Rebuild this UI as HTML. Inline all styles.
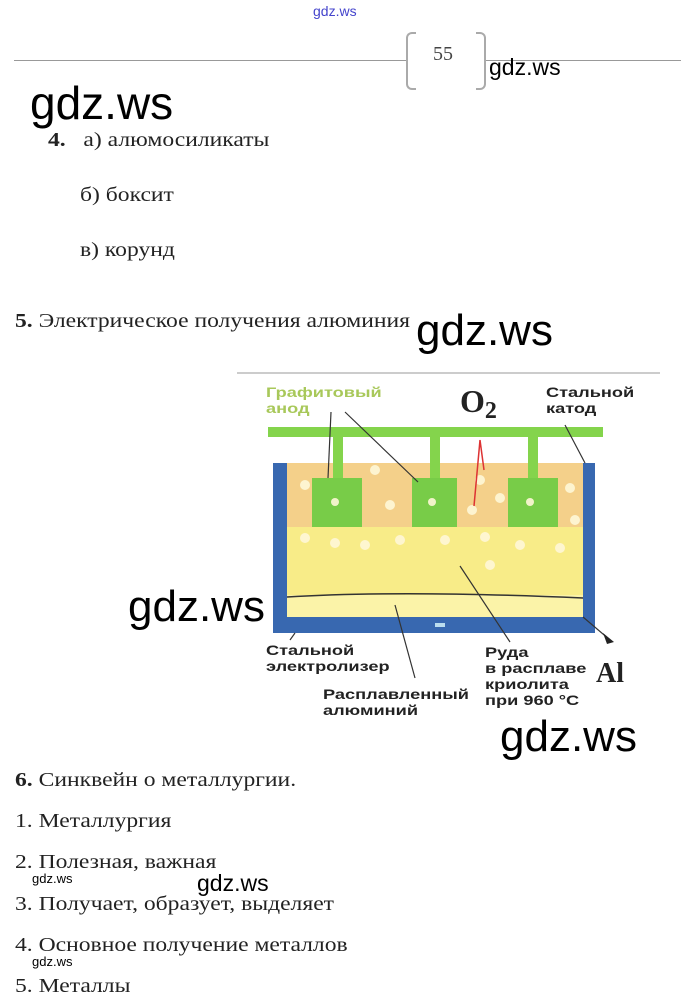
<!DOCTYPE html>
<html><head><meta charset="utf-8"><style>
body{margin:0;width:681px;height:1008px;background:#fff;position:relative;overflow:hidden;font-family:"Liberation Serif",serif;color:#222}
.t{position:absolute;font-size:20px;white-space:nowrap;line-height:1;transform:scaleX(1.18);transform-origin:0 0}
.w{position:absolute;font-family:"Liberation Sans",sans-serif;color:#000;white-space:nowrap;line-height:1}
.d{position:absolute;font-family:"Liberation Sans",sans-serif;font-weight:bold;font-size:14px;line-height:16px;color:#222;transform:scaleX(1.3);transform-origin:0 0;white-space:nowrap}
</style></head><body>
<div class="w" style="left:313px;top:4px;font-size:14px;color:#44c">gdz.ws</div>
<div style="position:absolute;left:14px;top:60px;width:392px;height:1px;background:#999"></div>
<div style="position:absolute;left:486px;top:60px;width:195px;height:1px;background:#999"></div>
<div style="position:absolute;left:406px;top:32px;width:8px;height:54px;border:2px solid #aaa;border-right:none;border-radius:6px 0 0 6px"></div>
<div style="position:absolute;left:476px;top:32px;width:8px;height:54px;border:2px solid #aaa;border-left:none;border-radius:0 6px 6px 0"></div>
<div class="t" style="left:433px;top:44px;font-size:20px;color:#444;transform:none">55</div>
<div class="w" style="left:489px;top:56px;font-size:23px">gdz.ws</div>
<div class="w" style="left:30px;top:80px;font-size:46px">gdz.ws</div>
<div class="t" style="left:48px;top:130px"><b>4.</b>&nbsp;&nbsp; а) алюмосиликаты</div>
<div class="t" style="left:80px;top:185px">б) боксит</div>
<div class="t" style="left:80px;top:240px">в) корунд</div>
<div class="t" style="left:15px;top:311px"><b>5.</b> Электрическое получения алюминия</div>
<div class="w" style="left:416px;top:309px;font-size:44px">gdz.ws</div>

<svg style="position:absolute;left:0;top:0" width="681" height="1008">
<line x1="237" y1="373" x2="660" y2="373" stroke="#ccc" stroke-width="2"/>
<rect x="287" y="463" width="296" height="64" fill="#f4d08a"/>
<rect x="287" y="527" width="296" height="90" fill="#f8ec88"/>
<rect x="287" y="595" width="296" height="22" fill="#fbf3a8"/>
<path d="M287 597 Q400 590 583 598" stroke="#333" fill="none" stroke-width="1.5"/>
<rect x="268" y="427" width="335" height="10" fill="#84d44c"/>
<rect x="333" y="437" width="10" height="42" fill="#84d44c"/>
<rect x="430" y="437" width="10" height="42" fill="#84d44c"/>
<rect x="528" y="437" width="10" height="42" fill="#84d44c"/>
<rect x="312" y="478" width="50" height="49" fill="#78cc48"/>
<rect x="412" y="478" width="45" height="49" fill="#78cc48"/>
<rect x="508" y="478" width="50" height="49" fill="#78cc48"/>
<g fill="#fff8d8" opacity="0.9">
<circle cx="335" cy="502" r="4"/><circle cx="432" cy="502" r="4"/><circle cx="530" cy="502" r="4"/>
<circle cx="305" cy="485" r="5"/><circle cx="375" cy="470" r="5"/><circle cx="390" cy="505" r="5"/>
<circle cx="480" cy="480" r="5"/><circle cx="472" cy="510" r="5"/><circle cx="500" cy="498" r="5"/>
<circle cx="570" cy="488" r="5"/><circle cx="575" cy="520" r="5"/><circle cx="305" cy="538" r="5"/>
<circle cx="335" cy="543" r="5"/><circle cx="365" cy="545" r="5"/><circle cx="400" cy="540" r="5"/>
<circle cx="445" cy="540" r="5"/><circle cx="485" cy="537" r="5"/><circle cx="520" cy="545" r="5"/>
<circle cx="560" cy="548" r="5"/><circle cx="490" cy="565" r="5"/>
</g>
<path d="M273 463 H287 V617 H583 V463 H595 V633 H273 Z" fill="#3868b0"/>
<rect x="435" y="623" width="10" height="4" fill="#bde"/>
<g stroke="#333" stroke-width="1.2" fill="none">
<path d="M331 412 L328 478"/><path d="M345 412 L418 482"/>
<path d="M565 425 L585 463"/><path d="M460 566 L510 642"/>
<path d="M395 605 L415 678"/><path d="M583 617 L610 640"/>
<path d="M295 633 L290 640"/>
</g>
<g stroke="#d33" stroke-width="1.5" fill="none"><path d="M480 440 L474 506 M480 440 L484 470"/></g>
<polygon points="603,633 614,642 607,644" fill="#222"/>
<text x="460" y="412" font-family="Liberation Serif" font-weight="bold" font-size="32" fill="#222">O<tspan font-size="24" dy="6">2</tspan></text>
<text x="596" y="682" font-family="Liberation Serif" font-weight="bold" font-size="28" fill="#222">Al</text>
</svg>
<div class="d" style="left:266px;top:384px;color:#a8c85a">Графитовый<br>анод</div>
<div class="d" style="left:546px;top:384px">Стальной<br>катод</div>
<div class="d" style="left:266px;top:642px">Стальной<br>электролизер</div>
<div class="d" style="left:323px;top:686px">Расплавленный<br>алюминий</div>
<div class="d" style="left:485px;top:644px">Руда<br>в расплаве<br>криолита<br>при 960 °C</div>
<div class="w" style="left:128px;top:585px;font-size:44px">gdz.ws</div>
<div class="w" style="left:500px;top:715px;font-size:44px">gdz.ws</div>

<div class="t" style="left:15px;top:770px"><b>6.</b> Синквейн о металлургии.</div>
<div class="t" style="left:15px;top:811px">1. Металлургия</div>
<div class="t" style="left:15px;top:852px">2. Полезная, важная</div>
<div class="w" style="left:32px;top:872px;font-size:13px">gdz.ws</div>
<div class="w" style="left:197px;top:872px;font-size:23px">gdz.ws</div>
<div class="t" style="left:15px;top:894px">3. Получает, образует, выделяет</div>
<div class="t" style="left:15px;top:935px">4. Основное получение металлов</div>
<div class="w" style="left:32px;top:955px;font-size:13px">gdz.ws</div>
<div class="t" style="left:15px;top:976px">5. Металлы</div>
</body></html>
